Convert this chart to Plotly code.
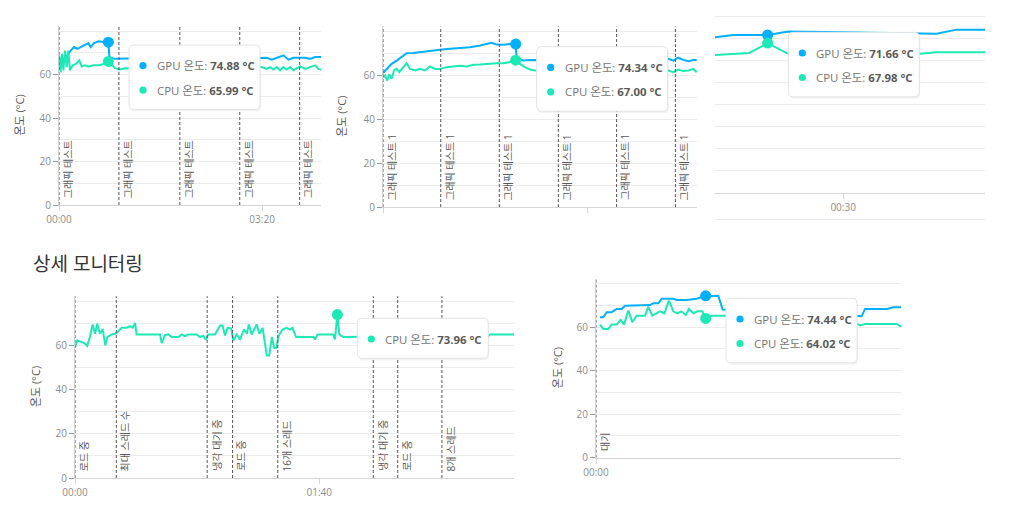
import plotly.graph_objects as go

# page is shown with the browser's default 8px body margin, so the figure is
# sized to fill the rest of the 1011x509 window
PAGE_W, PAGE_H = 1011, 509
PAD = 8
W, H = PAGE_W - 2 * PAD, PAGE_H - 2 * PAD

GPU_COLOR = "#00B0FF"
CPU_COLOR = "#1DE9B6"
GRID = "#ececec"
AXIS = "#d6d6d6"
FONT = "Open Sans, Noto Sans CJK KR, sans-serif"
TICK_FONT = dict(family=FONT, size=10, color="#8c8c8c")

Y_MAX = 82.3
Y_TICKS = [0, 20, 40, 60]
Y_MINOR = [10, 30, 50, 70, 80]

# ---- panel 1: graphics test ----
P1_GPU_T = [0, 2, 4.3, 6.6, 9.2, 11.5, 14.8, 18.1, 21.3, 25.6, 28.9, 31.2, 34.5, 38.8, 43.7,
            48.6, 49.6, 55.2, 60.1, 80, 100, 120, 140, 160, 180, 199.7, 204.6, 209.5, 214.5,
            221, 226, 230.9, 237.4, 242.4, 247.3, 252.2, 258.1]
P1_GPU = [62.6, 64.2, 65.7, 68, 69.5, 71, 72.6, 71.8, 72.6, 73.7, 74.4, 72.6, 74.4, 75.3, 74.9,
          74.88, 68, 67.2, 67.2, 67.5, 67, 67.4, 67.2, 67.6, 67.3, 67.7, 67.7, 66.8, 67.7,
          68.8, 66.8, 67.7, 67.7, 67.7, 67.2, 68, 68]
P1_CPU_T = [0.3, 1.6, 3, 4.3, 5.9, 7.6, 9.2, 10.8, 13.5, 16.7, 20, 22.3, 25.6, 28.9, 33.8,
            38.8, 42, 45.3, 48.6, 51.9, 55.2, 60.1, 65, 90, 120, 150, 180, 199.7, 204.6,
            207.9, 211.2, 214.5, 217.7, 221, 224.3, 227.6, 230.9, 234.2, 237.4, 242.4,
            247.3, 252.2, 255.5, 258.1]
P1_CPU = [68.8, 61.1, 69.5, 61.9, 71, 63.4, 71, 61.9, 64.2, 64.9, 66.5, 63.7, 64.2, 63.7, 64.2,
          64.2, 64.6, 64.9, 65.99, 64.2, 62.9, 62.3, 62.9, 62.5, 63, 62.5, 63, 63.4, 62.6,
          63.4, 62.3, 63.4, 61.9, 63.4, 62.3, 63.4, 61.9, 62.9, 63.7, 62.6,
          63.4, 64.2, 62.6, 62.3]
P1_EVENTS = [0, 59, 119, 178, 237]
P1_LABELS = ["그래픽 테스트"] * 5
P1_XTICKS = [0, 200]
P1_XTEXT = ["00:00", "03:20"]
P1_HOVER_T = 48.6
P1_HOVER = [74.88, 65.99]

# ---- panel 2: graphics test 1 ----
P2_GPU_T = [0, 3.6, 8.5, 13.4, 18.3, 23.2, 29.7, 39.5, 46.1, 55.9, 65.7, 75.5, 85.3, 95.1,
            101.6, 106.5, 111.4, 118, 124.5, 130.1, 131, 137.6, 144.1, 150.7, 180, 210, 240,
            279.7, 284.6, 289.5, 294.4, 299.3, 304.2, 307.5]
P2_GPU = [61.1, 63, 65.3, 66.8, 68.4, 70.2, 70.3, 70.9, 71.4, 71.7, 72.2, 72.5, 72.9, 73.7,
          74.4, 74.9, 74.1, 74, 74.4, 74.34, 67.6, 66.8, 67.1, 67.1, 67.3, 67, 67.4,
          67.6, 66.8, 68.1, 67.1, 66.5, 67.1, 67.1]
P2_CPU_T = [0, 2, 4.2, 6.2, 8.5, 10.8, 13.4, 16, 19.9, 23.2, 26.5, 31.4, 36.3, 41.2, 46.1, 51,
            55.9, 62.4, 69, 75.5, 82, 88.6, 95.1, 101.6, 106.5, 111.4, 118, 124.5, 130.1,
            134.3, 139.2, 144.1, 149, 180, 210, 240, 279.7, 284.6, 289.5, 294.4, 299.3,
            304.2, 307.5]
P2_CPU = [59.2, 60, 57.7, 60.5, 58.5, 62.3, 63, 61.5, 63.8, 65.6, 63, 62.3, 63, 62.3, 64.1, 63,
          63, 63.8, 64.1, 64.4, 64.1, 64.9, 65, 65.3, 65.3, 65.6, 65.6, 66.1, 67.0,
          65.3, 63.8, 62.7, 62.3, 62.5, 62.2, 62.4, 62.3, 61.5, 62.7, 62, 62.3,
          63, 61.5]
P2_EVENTS = [0, 56.6, 114, 171.9, 229, 286.6]
P2_LABELS = ["그래픽 테스트 1"] * 6
P2_XTICKS = [0, 200]
P2_XTEXT = ["00:00", "03:20"]
P2_HOVER_T = 130.1
P2_HOVER = [74.34, 67.00]

# ---- panel 3: cropped chart, top right ----
P3_GPU_T = [2, 6, 13.5, 18, 30, 45.3, 50.4, 54.8, 61]
P3_GPU = [70.6, 71.7, 71.66, 73.2, 72.9, 72.5, 72.2, 74.1, 74.1]
P3_CPU_T = [2, 9.5, 13.5, 18, 46.8, 50.4, 61]
P3_CPU = [62.6, 63.5, 67.98, 63.1, 63.1, 63.8, 63.8]
P3_XTICKS = [30]
P3_XTEXT = ["00:30"]
P3_HOVER_T = 13.5
P3_HOVER = [71.66, 67.98]

# ---- panel 4: detailed monitoring, CPU only ----
P4_CPU_T = [0, 0.96, 2.7, 4.1, 5.0, 6.1, 7.2, 8.2, 9.1, 10.2,
            11.3, 12.4, 13.2, 15.0, 16.4, 17.3, 19.1, 21.1, 22.5, 23.6,
            24.6, 25.2, 34.8, 35.5, 36.8, 38.2, 39.6, 42.3, 43.7, 45.0,
            46.4, 49.8, 51.2, 52.5, 53.5, 54.6, 57.3, 59.4, 60.4, 61.4,
            62.5, 63.9, 64.8, 66.2, 67.5, 69.2, 70.3, 71.2, 72.3, 74.4,
            75.5, 76.8, 78.5, 79.5, 80.6, 81.5, 82.3, 83.4, 85.0, 86.6,
            88.0, 89.0, 90.5, 97.6, 98.2, 99.3, 105.7, 106.4, 107.4, 108.2,
            109.8, 114.6, 125, 140, 155, 168.9, 169.9, 179.7]
P4_CPU = [59.2, 62.3, 61.5, 60.8, 59.8, 63.8, 69.5, 65.3, 69.8, 65.3,
          67.5, 60, 63.8, 65, 65.3, 66, 68, 68, 68.7, 68,
          70.2, 65, 65, 61, 64.7, 65, 63.8, 63.8, 65, 64.2,
          65, 65, 63.8, 64.4, 62.6, 65, 65, 69, 69, 64.5,
          68, 67.7, 62.3, 65, 62.7, 67.2, 65.3, 69.5, 65, 69.5,
          65.3, 68, 55.5, 55.5, 63.8, 58.8, 58.8, 64.5, 67.2, 68,
          67.2, 68, 63.8, 63.8, 62.7, 65, 65, 62.7, 73.96, 65,
          63.8, 63.8, 64, 65, 64.5, 63.8, 65, 65]
P4_EVENTS = [0, 16.9, 54.1, 64.5, 83.0, 122.1, 132.1, 150.2]
P4_LABELS = ["로드 중", "최대 스레드 수", "냉각 대기 중", "로드 중",
             "16개 스레드", "냉각 대기 중", "로드 중", "8개 스레드"]
P4_XTICKS = [0, 100]
P4_XTEXT = ["00:00", "01:40"]
P4_HOVER_T = 107.4
P4_HOVER = [73.96]

# ---- panel 5: bottom right ----
P5_GPU_T = [1.2, 2.2, 3.2, 4.7, 6.2, 7.7, 8.7, 12.2, 13.2, 16.2, 17.2, 18.7, 19.7, 23.2, 24.2,
            27.2, 30.2, 32.9, 34.2, 36.7, 38, 39.2, 50, 60, 70, 78.4, 79.7, 80.7, 87.2, 89.2,
            91.5]
P5_GPU = [64.6, 64.6, 66.9, 66.9, 68.4, 68.4, 69.9, 69.9, 70.2, 70.2, 71, 71, 73.1, 73.1, 72.5,
          72.5, 73.1, 74.44, 74.4, 74.4, 68.1, 68.1, 68, 68, 66, 65, 65, 68.4, 68.4, 69.2,
          69.2]
P5_CPU_T = [1.2, 2.2, 3.7, 4.7, 6.2, 7.4, 8.4, 9.7, 10.9, 12.2, 14.7, 15.7, 16.9, 18, 19.2,
            20.5, 21.9, 23.2, 24.4, 25.6, 26.9, 27.9, 29.2, 30.4, 31.9, 32.9, 34.2, 38.7, 50,
            65, 78.4, 79.2, 80.7, 90.2, 91.5]
P5_CPU = [61.2, 59.2, 59.2, 61.2, 61.2, 63.4, 61.2, 67.6, 62.3, 65.3, 65.3, 69.5, 65.3, 66.1,
          67.3, 66.4, 72.2, 67.3, 66.4, 67.3, 65.6, 68.4, 66.4, 67.3, 67.3, 64.02, 65.3, 65.3,
          65, 63, 61.5, 60.8, 61.5, 61.5, 60.3]
P5_EVENTS = [0]
P5_LABELS = ["대기"]
P5_XTICKS = [0]
P5_XTEXT = ["00:00"]
P5_HOVER_T = 32.9
P5_HOVER = [74.44, 64.02]


# layout helpers: window pixel -> paper fraction
def paper_x(px):
    return (px - PAD) / W


def paper_y(py):
    return 1 - (py - PAD) / H


def rounded_rect(x0, y0, x1, y1, r):
    pts = [
        ("M", x0 + r, y0), ("L", x1 - r, y0), ("Q", x1, y0, x1, y0 + r),
        ("L", x1, y1 - r), ("Q", x1, y1, x1 - r, y1), ("L", x0 + r, y1),
        ("Q", x0, y1, x0, y1 - r), ("L", x0, y0 + r), ("Q", x0, y0, x0 + r, y0),
    ]
    out = []
    for p in pts:
        cmd, coords = p[0], p[1:]
        xy = [f"{paper_x(coords[k]):.5f},{paper_y(coords[k + 1]):.5f}"
              for k in range(0, len(coords), 2)]
        out.append(cmd + " " + " ".join(xy))
    return " ".join(out) + " Z"


PANELS = [
    dict(box=(59, 321, 26, 205), xr=(0, 258),
         series=[("GPU 온도", GPU_COLOR, P1_GPU_T, P1_GPU), ("CPU 온도", CPU_COLOR, P1_CPU_T, P1_CPU)],
         events=P1_EVENTS, labels=P1_LABELS, xt=(P1_XTICKS, P1_XTEXT),
         hover=(P1_HOVER_T, P1_HOVER), tip=(129, 45), ytitle=19, yaxis=True),
    dict(box=(383, 697, 26.6, 207), xr=(0, 307.8),
         series=[("GPU 온도", GPU_COLOR, P2_GPU_T, P2_GPU), ("CPU 온도", CPU_COLOR, P2_CPU_T, P2_CPU)],
         events=P2_EVENTS, labels=P2_LABELS, xt=(P2_XTICKS, P2_XTEXT),
         hover=(P2_HOVER_T, P2_HOVER), tip=(536.7, 46.7), ytitle=342, yaxis=True),
    dict(box=(715, 985, 11.6, 192.7), xr=(2, 61),
         series=[("GPU 온도", GPU_COLOR, P3_GPU_T, P3_GPU), ("CPU 온도", CPU_COLOR, P3_CPU_T, P3_CPU)],
         events=[], labels=[], xt=(P3_XTICKS, P3_XTEXT),
         hover=(P3_HOVER_T, P3_HOVER), tip=(788.3, 32.3), ytitle=None, yaxis=False),
    dict(box=(75, 514, 296.2, 478), xr=(0, 179.7),
         series=[("CPU 온도", CPU_COLOR, P4_CPU_T, P4_CPU)],
         events=P4_EVENTS, labels=P4_LABELS, xt=(P4_XTICKS, P4_XTEXT),
         hover=(P4_HOVER_T, P4_HOVER), tip=(357.3, 318.3), ytitle=35, yaxis=True),
    dict(box=(596, 901, 278.7, 457.7), xr=(0, 91.5),
         series=[("GPU 온도", GPU_COLOR, P5_GPU_T, P5_GPU), ("CPU 온도", CPU_COLOR, P5_CPU_T, P5_CPU)],
         events=P5_EVENTS, labels=P5_LABELS, xt=(P5_XTICKS, P5_XTEXT),
         hover=(P5_HOVER_T, P5_HOVER), tip=(726, 298.3), ytitle=557, yaxis=True),
]

fig = go.Figure()
shapes = []
annotations = []
layout_axes = {}

for i, p in enumerate(PANELS, start=1):
    sfx = "" if i == 1 else str(i)
    xa, ya = "x" + sfx, "y" + sfx
    x0, x1, y0, y1 = p["box"]

    for name, color, t, v in p["series"]:
        fig.add_trace(go.Scatter(x=t, y=v, mode="lines", name=name,
                                 line=dict(color=color, width=2),
                                 xaxis=xa, yaxis=ya, hoverinfo="skip"))
    # active point markers
    ht, hvals = p["hover"]
    for (name, color, _, _), hv in zip(p["series"], hvals):
        fig.add_trace(go.Scatter(x=[ht], y=[hv], mode="markers",
                                 marker=dict(color=color, size=11),
                                 xaxis=xa, yaxis=ya, hoverinfo="skip"))

    layout_axes["xaxis" + sfx] = dict(
        domain=[paper_x(x0), paper_x(x1)], range=list(p["xr"]), anchor=ya,
        showgrid=False, zeroline=False, showline=True, linecolor=AXIS,
        ticks="outside", ticklen=5, tickcolor=AXIS, automargin=False,
        tickmode="array", tickvals=p["xt"][0], ticktext=p["xt"][1],
        tickfont=TICK_FONT, fixedrange=True,
    )
    layout_axes["yaxis" + sfx] = dict(
        domain=[paper_y(y1), paper_y(y0)], range=[0, Y_MAX], anchor=xa,
        tickmode="array", tickvals=Y_TICKS, showgrid=True, gridcolor=GRID,
        minor=dict(tickvals=Y_MINOR, showgrid=True, gridcolor=GRID, ticks=""),
        zeroline=False, showline=p["yaxis"], linecolor="#d0d0d0", automargin=False,
        ticks="outside" if p["yaxis"] else "", ticklen=5, tickcolor="#9a9a9a",
        showticklabels=p["yaxis"], tickfont=TICK_FONT, fixedrange=True,
    )

    # annotation lines with rotated labels
    for t, lab in zip(p["events"], p["labels"]):
        shapes.append(dict(type="line", xref=xa, yref=ya + " domain", x0=t, x1=t, y0=0, y1=1,
                           line=dict(color="#555555", width=1, dash="3px,2px"), layer="above"))
        annotations.append(dict(xref=xa, yref=ya, x=t, y=2.2, text=lab, textangle=-90,
                                xanchor="left", yanchor="bottom", showarrow=False,
                                font=dict(family=FONT, size=10, color="#5a5a5a")))

    if p["ytitle"] is not None:
        annotations.append(dict(xref="paper", yref="paper", x=paper_x(p["ytitle"]),
                                y=paper_y((y0 + y1) / 2), text="온도 (°C)", textangle=-90,
                                xanchor="center", yanchor="middle", showarrow=False,
                                font=dict(family=FONT, size=11, color="#555555")))

# tooltips (after the lines so they sit on top)
for p in PANELS:
    tx, ty = p["tip"]
    ht, hvals = p["hover"]
    n = len(hvals)
    tw, th = 131, 15.5 + 24.5 * n
    shapes.append(dict(type="path", xref="paper", yref="paper", layer="above",
                       path=rounded_rect(tx + 1, ty + 2, tx + tw + 1, ty + th + 2, 5),
                       fillcolor="rgba(0,0,0,0.05)", line=dict(width=0)))
    shapes.append(dict(type="path", xref="paper", yref="paper", layer="above",
                       path=rounded_rect(tx, ty, tx + tw, ty + th, 5),
                       fillcolor="white", line=dict(color="#e3e3e3", width=1)))
    for k, ((name, color, _, _), hv) in enumerate(zip(p["series"], hvals)):
        cy = ty + 20.7 + 24.5 * k
        cx = tx + 14
        shapes.append(dict(type="circle", xref="paper", yref="paper", layer="above",
                           x0=paper_x(cx - 3.6), x1=paper_x(cx + 3.6),
                           y0=paper_y(cy + 3.6), y1=paper_y(cy - 3.6),
                           fillcolor=color, line=dict(width=0)))
        annotations.append(dict(xref="paper", yref="paper", x=paper_x(tx + 26), y=paper_y(cy),
                                text=f"<span style='color:#747474'>{name}:</span> <b>{hv:.2f} °C</b>",
                                xanchor="left", yanchor="middle", showarrow=False,
                                font=dict(family=FONT, size=11.4, color="#5a5a5a")))

# the top-middle card is cut off just under its axis labels
shapes.append(dict(type="rect", xref="paper", yref="paper", layer="above",
                   x0=paper_x(335), x1=paper_x(705), y0=paper_y(238), y1=paper_y(215.5),
                   fillcolor="white", line=dict(width=0)))
# thin separator under the top-right card
shapes.append(dict(type="line", xref="paper", yref="paper", layer="above",
                   x0=paper_x(715), x1=paper_x(985), y0=paper_y(219.5), y1=paper_y(219.5),
                   line=dict(color="#e8e8e8", width=1)))

annotations.append(dict(xref="paper", yref="paper", x=paper_x(31), y=paper_y(264),
                        text="상세 모니터링", xanchor="left", yanchor="middle", showarrow=False,
                        font=dict(family=FONT, size=19, color="#333333")))

fig.update_layout(
    width=W, height=H,
    margin=dict(l=0, r=0, t=0, b=0, pad=0, autoexpand=False),
    paper_bgcolor="white", plot_bgcolor="white",
    showlegend=False, hovermode=False,
    font=dict(family=FONT),
    shapes=shapes, annotations=annotations,
    **layout_axes,
)

fig.write_html("out.html", config=dict(displayModeBar=False))
